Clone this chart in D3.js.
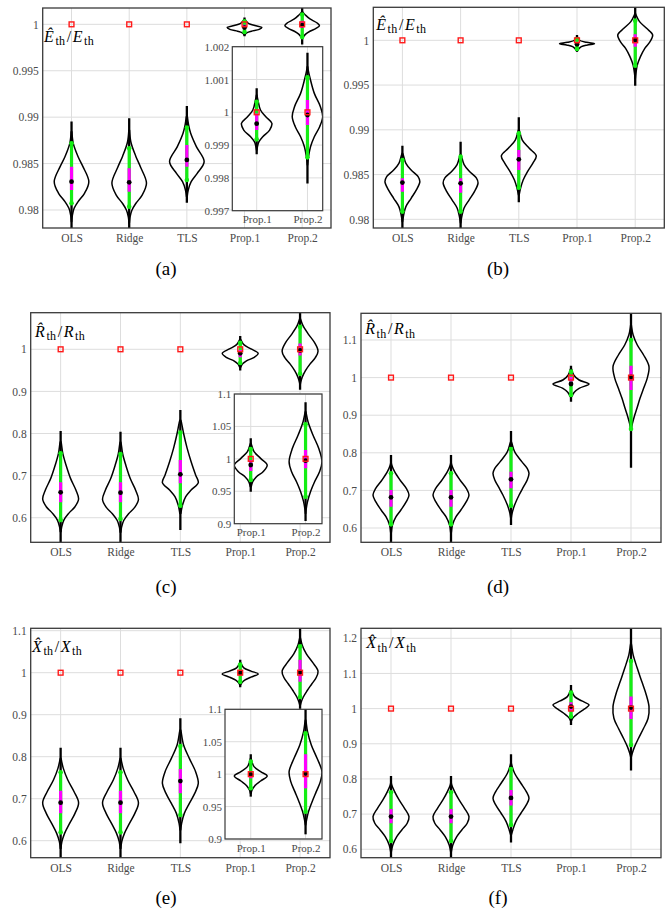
<!DOCTYPE html>
<html>
<head>
<meta charset="utf-8">
<script src="https://cdn.jsdelivr.net/npm/d3@7"></script>
<style>
  html, body { margin: 0; padding: 0; background: #fff; }
  svg { display: block; }
</style>
</head>
<body>
<div id="chart"></div>
<script>
// ---------------------------------------------------------------------------
// Estimated-to-true ratios of the thermal parameters, five estimators.
// Each violin: density profile [ratio, relative density], whisker range,
// green interval, magenta interval and the centre marker.
// ---------------------------------------------------------------------------
const categories = ["OLS", "Ridge", "TLS", "Prop.1", "Prop.2"];
const insetCategories = ["Prop.1", "Prop.2"];
const trueRatio = 1;

// tick values and labels
const ticksE = [0.98, 0.985, 0.99, 0.995, 1];
const tickLabelsE = ["0.98", "0.985", "0.99", "0.995", "1"];
const ticksEZoom = [0.997, 0.998, 0.999, 1, 1.001, 1.002];
const tickLabelsEZoom = ["0.997", "0.998", "0.999", "1", "1.001", "1.002"];
const ticks06to1 = [0.6, 0.7, 0.8, 0.9, 1];
const tickLabels06to1 = ["0.6", "0.7", "0.8", "0.9", "1"];
const ticks06to11 = [0.6, 0.7, 0.8, 0.9, 1, 1.1];
const tickLabels06to11 = ["0.6", "0.7", "0.8", "0.9", "1", "1.1"];
const ticks06to12 = [0.6, 0.7, 0.8, 0.9, 1, 1.1, 1.2];
const tickLabels06to12 = ["0.6", "0.7", "0.8", "0.9", "1", "1.1", "1.2"];
const ticksZoom = [0.9, 0.95, 1, 1.05, 1.1];
const tickLabelsZoom = ["0.9", "0.95", "1", "1.05", "1.1"];

// ---- (a) E_th ----
const aWhisker = [[0.9770, 0.98952], [0.9770, 0.98987], [0.98079, 0.99120], [0.99872, 1.00073], [0.997833, 1.001817]];
const aGreen = [[0.98072, 0.98718], [0.98036, 0.98664], [0.98323, 0.98887], [0.999175, 1.000323], [0.998626, 1.001065]];
const aMagenta = [[0.98215, 0.98467], [0.98196, 0.98449], [0.98467, 0.98700], [0.999459, 0.999967], [0.999612, 1.000374]];
const aCentre = [0.98305, 0.98298, 0.98539, 0.999652, 0.999917];
const aDensity = [
  [[0.98844, 0.02], [0.98718, 0.1], [0.98574, 0.38], [0.98467, 0.66], [0.98305, 1], [0.98180, 0.75], [0.98090, 0.38], [0.98018, 0.15], [0.97946, 0.05], [0.97874, 0.01]],
  [[0.98860, 0.02], [0.98730, 0.1], [0.98580, 0.38], [0.98460, 0.66], [0.98290, 1], [0.98160, 0.75], [0.98070, 0.38], [0.97995, 0.15], [0.97925, 0.05], [0.97860, 0.01]],
  [[0.99005, 0.03], [0.98916, 0.1], [0.98826, 0.22], [0.98682, 0.55], [0.98521, 1], [0.98395, 0.6], [0.98305, 0.25], [0.98215, 0.08], [0.98144, 0.02]],
  [[1.000526, 0.02], [1.000374, 0.08], [1.000069, 0.25], [0.999866, 0.6], [0.999663, 1], [0.999459, 0.85], [0.999256, 0.4], [0.999104, 0.15], [0.998951, 0.05], [0.99885, 0.01]],
  [[1.00139, 0.02], [1.001289, 0.05], [1.000984, 0.2], [1.000577, 0.45], [1.000171, 0.85], [0.999866, 1], [0.999561, 0.8], [0.999256, 0.45], [0.998951, 0.2], [0.998646, 0.07], [0.998392, 0.01]]
];

// ---- (b) E_th ----
const bWhisker = [[0.9775, 0.98823], [0.9775, 0.98868], [0.98190, 0.99140], [0.99873, 1.00060], [0.99493, 1.0045]];
const bGreen = [[0.98086, 0.98663], [0.98086, 0.98700], [0.98354, 0.98961], [0.99903, 1.00011], [0.99717, 1.00220]];
const bMagenta = [[0.98309, 0.98458], [0.98298, 0.98458], [0.98551, 0.98775], [0.99948, 0.99985], [0.99929, 1.00067]];
const bCentre = [0.98410, 0.98402, 0.98670, 0.99955, 1.00004];
const bDensity = [
  [[0.98737, 0.02], [0.98719, 0.05], [0.98626, 0.2], [0.98551, 0.5], [0.98477, 0.9], [0.98421, 1], [0.98328, 0.8], [0.98235, 0.5], [0.98142, 0.2], [0.98048, 0.07], [0.97974, 0.01]],
  [[0.98725, 0.02], [0.98705, 0.05], [0.98612, 0.2], [0.98537, 0.5], [0.98463, 0.9], [0.98407, 1], [0.98313, 0.8], [0.98220, 0.5], [0.98127, 0.2], [0.98033, 0.07], [0.97960, 0.01]],
  [[0.98998, 0.02], [0.98980, 0.05], [0.98886, 0.2], [0.98793, 0.6], [0.98708, 1], [0.98626, 0.8], [0.98533, 0.5], [0.98439, 0.25], [0.98346, 0.1], [0.98272, 0.02]],
  [[1.00041, 0.02], [1.00004, 0.12], [0.99978, 0.55], [0.99963, 1], [0.99948, 0.6], [0.99929, 0.25], [0.99899, 0.08], [0.99881, 0.02]],
  [[1.00302, 0.01], [1.00283, 0.05], [1.00209, 0.25], [1.00134, 0.65], [1.00060, 1], [0.99985, 0.85], [0.99911, 0.55], [0.99818, 0.3], [0.99724, 0.12], [0.99631, 0.04], [0.99575, 0.01]]
];

// ---- (c) R_th ----
const cWhisker = [[0.52, 0.806], [0.52, 0.80436], [0.57069, 0.85584], [0.94936, 1.03162], [0.90411, 1.08715]];
const cGreen = [[0.5944, 0.75287], [0.59677, 0.75129], [0.62852, 0.80198], [0.96735, 1.01517], [0.94164, 1.05321]];
const cMagenta = [[0.63644, 0.68396], [0.63644, 0.68396], [0.68158, 0.73703], [0.98123, 0.9982], [0.98535, 1.01362]];
const cCentre = [0.6602, 0.6594, 0.70297, 0.99049, 0.99717];
const cDensity = [
  [[0.78059, 0.02], [0.77663, 0.04], [0.75286, 0.12], [0.72514, 0.3], [0.69346, 0.55], [0.66573, 0.85], [0.64435, 1], [0.62613, 0.8], [0.61029, 0.45], [0.59444, 0.18], [0.57860, 0.06], [0.56672, 0.02]],
  [[0.77959, 0.02], [0.77563, 0.04], [0.75186, 0.12], [0.72414, 0.3], [0.69246, 0.55], [0.66473, 0.85], [0.64335, 1], [0.62513, 0.8], [0.60929, 0.45], [0.59344, 0.18], [0.57760, 0.06], [0.56572, 0.02]],
  [[0.83207, 0.02], [0.82811, 0.05], [0.79643, 0.2], [0.76475, 0.38], [0.73306, 0.6], [0.70138, 0.85], [0.68316, 1], [0.66573, 0.6], [0.64989, 0.3], [0.63009, 0.12], [0.61029, 0.03]],
  [[1.02391, 0.02], [1.02134, 0.05], [1.01105, 0.2], [1.00077, 0.6], [0.99049, 1], [0.98021, 0.75], [0.97249, 0.35], [0.96478, 0.12], [0.95707, 0.03]],
  [[1.07275, 0.02], [1.07018, 0.04], [1.05733, 0.15], [1.03676, 0.45], [1.01620, 0.8], [0.99563, 1], [0.98021, 0.85], [0.96478, 0.55], [0.94936, 0.3], [0.93393, 0.12], [0.92108, 0.03], [0.91594, 0.01]]
];

// ---- (d) R_th ----
const dWhisker = [[0.55, 0.79415], [0.55, 0.79415], [0.6080, 0.85799], [0.9360, 1.03174], [0.76047, 1.18]];
const dGreen = [[0.60977, 0.74539], [0.60977, 0.74539], [0.65941, 0.81012], [0.95373, 1.01578], [0.8633, 1.1]];
const dMagenta = [[0.65675, 0.70107], [0.65675, 0.70107], [0.7055, 0.74983], [0.98919, 1.00248], [0.96703, 1.03174]];
const dCentre = [0.68156, 0.68156, 0.72944, 0.98298, 1.0016];
const dDensity = [
  [[0.77199, 0.02], [0.76756, 0.04], [0.74983, 0.2], [0.72767, 0.5], [0.70551, 0.85], [0.68778, 1], [0.67005, 0.85], [0.64788, 0.55], [0.63015, 0.28], [0.60799, 0.08], [0.58849, 0.02]],
  [[0.77199, 0.02], [0.76756, 0.04], [0.74983, 0.2], [0.72767, 0.5], [0.70551, 0.85], [0.68778, 1], [0.67005, 0.85], [0.64788, 0.55], [0.63015, 0.28], [0.60799, 0.08], [0.58849, 0.02]],
  [[0.82962, 0.02], [0.82518, 0.05], [0.80302, 0.2], [0.77643, 0.6], [0.75870, 0.9], [0.74540, 1], [0.72767, 0.9], [0.70994, 0.7], [0.68778, 0.45], [0.66118, 0.2], [0.63902, 0.06], [0.62750, 0.02]],
  [[1.02287, 0.03], [1.00692, 0.15], [0.99362, 0.45], [0.98298, 1], [0.97146, 0.45], [0.96082, 0.18], [0.94929, 0.04]],
  [[1.13989, 0.02], [1.13546, 0.03], [1.11330, 0.12], [1.08670, 0.35], [1.06011, 0.7], [1.02908, 1], [0.99805, 0.9], [0.97146, 0.7], [0.94486, 0.5], [0.91827, 0.33], [0.89610, 0.18], [0.87838, 0.08], [0.86508, 0.02]]
];

// ---- (e) X_th ----
const eWhisker = [[0.54, 0.82143], [0.54, 0.82143], [0.59365, 0.89126], [0.9653, 1.03059], [0.9072, 1.115]];
const eGreen = [[0.61984, 0.7627], [0.61984, 0.7627], [0.66111, 0.82539], [0.97815, 1.01928], [0.94216, 1.06298]];
const eMagenta = [[0.66508, 0.71905], [0.66508, 0.71905], [0.7127, 0.77063], [0.9936, 1.0013], [0.97815, 1.03059]];
const eCentre = [0.69048, 0.69048, 0.74206, 0.9995, 1.001];
const eDensity = [
  [[0.79601, 0.02], [0.79204, 0.04], [0.77220, 0.15], [0.74442, 0.4], [0.71664, 0.75], [0.69045, 1], [0.66505, 0.8], [0.64124, 0.5], [0.61743, 0.22], [0.59759, 0.07], [0.58171, 0.02]],
  [[0.79601, 0.02], [0.79204, 0.04], [0.77220, 0.15], [0.74442, 0.4], [0.71664, 0.75], [0.69045, 1], [0.66505, 0.8], [0.64124, 0.5], [0.61743, 0.22], [0.59759, 0.07], [0.58171, 0.02]],
  [[0.86348, 0.02], [0.85951, 0.04], [0.82776, 0.18], [0.79601, 0.5], [0.76426, 0.85], [0.73649, 1], [0.71267, 0.8], [0.68886, 0.5], [0.66505, 0.22], [0.64124, 0.07], [0.62537, 0.02]],
  [[1.02442, 0.02], [1.02185, 0.04], [1.01157, 0.2], [1.00386, 0.6], [0.99717, 1], [0.98946, 0.6], [0.98226, 0.25], [0.97558, 0.08], [0.97044, 0.02]],
  [[1.08355, 0.01], [1.08098, 0.03], [1.06555, 0.12], [1.04499, 0.35], [1.02442, 0.7], [1.00386, 1], [0.98843, 0.9], [0.97301, 0.65], [0.95758, 0.4], [0.94216, 0.18], [0.92931, 0.06], [0.92159, 0.01]]
];

// ---- (f) X_th ----
const fWhisker = [[0.56, 0.80853], [0.56, 0.80853], [0.61896, 0.87014], [0.95355, 1.0673], [0.82369, 1.24]];
const fGreen = [[0.6237, 0.76209], [0.6237, 0.76209], [0.6692, 0.82844], [0.97725, 1.0455], [0.89668, 1.13555]];
const fMagenta = [[0.67393, 0.71469], [0.67393, 0.71469], [0.72417, 0.76872], [0.99147, 1.018], [0.97062, 1.03412]];
const fCentre = [0.69289, 0.69289, 0.74597, 1.0057, 1.00284];
const fDensity = [
  [[0.78768, 0.02], [0.78294, 0.04], [0.76398, 0.2], [0.74028, 0.45], [0.71659, 0.75], [0.69289, 1], [0.67393, 0.9], [0.65497, 0.6], [0.63602, 0.32], [0.61232, 0.1], [0.59336, 0.02]],
  [[0.78768, 0.02], [0.78294, 0.04], [0.76398, 0.2], [0.74028, 0.45], [0.71659, 0.75], [0.69289, 1], [0.67393, 0.9], [0.65497, 0.6], [0.63602, 0.32], [0.61232, 0.1], [0.59336, 0.02]],
  [[0.84455, 0.02], [0.83981, 0.04], [0.81611, 0.2], [0.78768, 0.55], [0.76398, 0.85], [0.74502, 1], [0.72606, 0.85], [0.70237, 0.55], [0.67867, 0.27], [0.65497, 0.1], [0.64076, 0.02]],
  [[1.05308, 0.02], [1.05024, 0.04], [1.03412, 0.2], [1.02180, 0.6], [1.01043, 1], [0.99905, 0.75], [0.98673, 0.4], [0.97441, 0.12], [0.96493, 0.02]],
  [[1.18578, 0.01], [1.18104, 0.03], [1.15261, 0.12], [1.11469, 0.35], [1.07678, 0.6], [1.03886, 0.85], [1.00569, 1], [0.97251, 0.95], [0.94408, 0.7], [0.91564, 0.42], [0.89194, 0.2], [0.87299, 0.07], [0.86066, 0.01]]
];

// ---------------------------------------------------------------------------
// Page layout (pixels) for the six sub-figures
// ---------------------------------------------------------------------------
const panels = [
  { key: "a", whisker: aWhisker, green: aGreen, magenta: aMagenta, centre: aCentre, density: aDensity,
    frame: { left: 42.7, top: 8, right: 331, bottom: 228 }, yDomain: [0.97806, 1.00176],
    ticks: ticksE, tickLabels: tickLabelsE, symbol: "E\u0302", symbol2: "E", labelAt: [44, 41.7],
    caption: "(a)", captionAt: [166, 275],
    inset: { frame: { left: 232.3, top: 46.7, right: 322.7, bottom: 210.7 }, xDomain: [0.52, 2.3],
             yDomain: [0.997, 1.002], ticks: ticksEZoom, tickLabels: tickLabelsEZoom } },
  { key: "b", whisker: bWhisker, green: bGreen, magenta: bMagenta, centre: bCentre, density: bDensity,
    frame: { left: 373.3, top: 7.3, right: 664.3, bottom: 228 }, yDomain: [0.97903, 1.00369],
    ticks: ticksE, tickLabels: tickLabelsE, symbol: "E\u0302", symbol2: "E", labelAt: [376.2, 29.5],
    caption: "(b)", captionAt: [498, 275] },
  { key: "c", whisker: cWhisker, green: cGreen, magenta: cMagenta, centre: cCentre, density: cDensity,
    frame: { left: 30.7, top: 312.7, right: 330, bottom: 542.3 }, yDomain: [0.5416, 1.0869],
    ticks: ticks06to1, tickLabels: tickLabels06to1, symbol: "R\u0302", symbol2: "R", labelAt: [35, 336.7],
    caption: "(c)", captionAt: [166, 593],
    inset: { frame: { left: 234.3, top: 394, right: 322, bottom: 523.7 }, xDomain: [0.7, 2.3],
             yDomain: [0.9, 1.1], ticks: ticksZoom, tickLabels: tickLabelsZoom } },
  { key: "d", whisker: dWhisker, green: dGreen, magenta: dMagenta, centre: dCentre, density: dDensity,
    frame: { left: 361, top: 313.3, right: 661, bottom: 542.3 }, yDomain: [0.562, 1.171],
    ticks: ticks06to11, tickLabels: tickLabels06to11, symbol: "R\u0302", symbol2: "R", labelAt: [365.2, 334],
    caption: "(d)", captionAt: [498, 593] },
  { key: "e", whisker: eWhisker, green: eGreen, magenta: eMagenta, centre: eCentre, density: eDensity,
    frame: { left: 30.7, top: 628.3, right: 330, bottom: 857.7 }, yDomain: [0.5595, 1.1057],
    ticks: ticks06to11, tickLabels: tickLabels06to11, symbol: "X\u0302", symbol2: "X", labelAt: [32, 651.5],
    caption: "(e)", captionAt: [166, 904],
    inset: { frame: { left: 225, top: 709.3, right: 322, bottom: 839 }, xDomain: [0.53, 2.3],
             yDomain: [0.9, 1.1], ticks: ticksZoom, tickLabels: tickLabelsZoom } },
  { key: "f", whisker: fWhisker, green: fGreen, magenta: fMagenta, centre: fCentre, density: fDensity,
    frame: { left: 361, top: 628.3, right: 661, bottom: 857.7 }, yDomain: [0.576, 1.2284],
    ticks: ticks06to12, tickLabels: tickLabels06to12, symbol: "X\u0302", symbol2: "X", labelAt: [366.2, 648.3],
    caption: "(f)", captionAt: [498, 904] }
];

// styling
const SERIF = "'Liberation Serif', 'DejaVu Serif', serif";
const GRID = "#dddddd";
const FRAME = "#3a3a3a";
const TICK_TEXT = "#4a4a4a";
const GREEN = "#14ee14";
const MAGENTA = "#ff00ff";
const RED = "#ff1a1a";

const svg = d3.select("#chart").append("svg")
  .attr("width", 670).attr("height", 914)
  .attr("viewBox", "0 0 670 914");
svg.append("rect").attr("width", 670).attr("height", 914).attr("fill", "#fff");
const defs = svg.append("defs");

// one violin with its whisker, intervals, centre marker and true-value square
function drawViolin(g, cx, y, halfWidth, i, p) {
  const area = d3.area()
    .curve(d3.curveCatmullRom.alpha(0.5))
    .y(d => y(d[0]))
    .x0(d => cx - d[1] * halfWidth)
    .x1(d => cx + d[1] * halfWidth);
  g.append("path").attr("d", area(p.density[i]))
    .attr("fill", "none").attr("stroke", "#000").attr("stroke-width", 1.5)
    .attr("stroke-linejoin", "round");

  const seg = (r, colour, w) => g.append("line")
    .attr("x1", cx).attr("x2", cx)
    .attr("y1", y(r[0])).attr("y2", y(r[1]))
    .attr("stroke", colour).attr("stroke-width", w);
  seg(p.whisker[i], "#000", 2.3);
  seg(p.green[i], GREEN, 3.2);
  seg(p.magenta[i], MAGENTA, 3.2);

  p.green[i].forEach(v => g.append("circle")
    .attr("cx", cx).attr("cy", y(v)).attr("r", 2.3).attr("fill", GREEN));
  g.append("circle").attr("cx", cx).attr("cy", y(p.centre[i]))
    .attr("r", 2.4).attr("fill", "#000");

  const s = 4.8;
  g.append("rect")
    .attr("x", cx - s / 2).attr("y", y(trueRatio) - s / 2)
    .attr("width", s).attr("height", s)
    .attr("fill", "none").attr("stroke", RED).attr("stroke-width", 1.4);
}

function styleAxis(g, size) {
  g.attr("font-family", null).attr("font-size", null);
  g.select(".domain").remove();
  g.selectAll(".tick line").remove();
  g.selectAll("text")
    .style("font-family", SERIF).style("font-size", size + "px").attr("fill", TICK_TEXT);
}

function drawGrid(g, fr, ticks, cats, xOf, y) {
  g.selectAll(null).data(ticks).join("line")
    .attr("x1", fr.left).attr("x2", fr.right)
    .attr("y1", d => y(d)).attr("y2", d => y(d))
    .attr("stroke", GRID).attr("stroke-width", 1);
  g.selectAll(null).data(cats).join("line")
    .attr("x1", d => xOf(d)).attr("x2", d => xOf(d))
    .attr("y1", fr.top).attr("y2", fr.bottom)
    .attr("stroke", GRID).attr("stroke-width", 1);
}

// axis label such as  R̂_th / R_th
function drawLabel(g, p) {
  const t = g.append("text")
    .attr("x", p.labelAt[0]).attr("y", p.labelAt[1])
    .style("font-family", SERIF).style("font-size", "16px").attr("fill", "#000");
  t.append("tspan").attr("font-style", "italic").text(p.symbol);
  t.append("tspan").style("font-size", "12px").attr("letter-spacing", 0.4)
    .attr("dy", 3.6).attr("dx", 1.6).text("th");
  t.append("tspan").attr("dy", -3.6).attr("dx", 1.2).text("/");
  t.append("tspan").attr("font-style", "italic").attr("dx", 1.5).text(p.symbol2);
  t.append("tspan").style("font-size", "12px").attr("letter-spacing", 0.4)
    .attr("dy", 3.6).attr("dx", 1.6).text("th");
}

panels.forEach(p => {
  const fr = p.frame;
  const g = svg.append("g").attr("class", "panel-" + p.key);
  const x = d3.scalePoint().domain(categories).range([fr.left, fr.right]).padding(0.5);
  const y = d3.scaleLinear().domain(p.yDomain).range([fr.bottom, fr.top]);

  const clipId = "clip-" + p.key;
  defs.append("clipPath").attr("id", clipId).append("rect")
    .attr("x", fr.left).attr("y", fr.top)
    .attr("width", fr.right - fr.left).attr("height", fr.bottom - fr.top);

  drawGrid(g, fr, p.ticks, categories, d => x(d), y);

  const body = g.append("g").attr("clip-path", `url(#${clipId})`);
  categories.forEach((c, i) => drawViolin(body, x(c), y, x.step() * 0.3, i, p));

  // zoomed view of the proposed estimators
  if (p.inset) {
    const ins = p.inset, ifr = ins.frame;
    const ix = d3.scaleLinear().domain(ins.xDomain).range([ifr.left, ifr.right]);
    const iy = d3.scaleLinear().domain(ins.yDomain).range([ifr.bottom, ifr.top]);
    const ig = g.append("g").attr("class", "inset");
    ig.append("rect").attr("x", ifr.left).attr("y", ifr.top)
      .attr("width", ifr.right - ifr.left).attr("height", ifr.bottom - ifr.top)
      .attr("fill", "#fff");
    const iclip = "clip-inset-" + p.key;
    defs.append("clipPath").attr("id", iclip).append("rect")
      .attr("x", ifr.left).attr("y", ifr.top)
      .attr("width", ifr.right - ifr.left).attr("height", ifr.bottom - ifr.top);
    const pos = c => ix(insetCategories.indexOf(c) + 1);
    drawGrid(ig, ifr, ins.ticks, insetCategories, pos, iy);
    const ibody = ig.append("g").attr("clip-path", `url(#${iclip})`);
    const step = ix(2) - ix(1);
    insetCategories.forEach(c => drawViolin(ibody, pos(c), iy, step * 0.3, categories.indexOf(c), p));
    ig.append("rect").attr("x", ifr.left).attr("y", ifr.top)
      .attr("width", ifr.right - ifr.left).attr("height", ifr.bottom - ifr.top)
      .attr("fill", "none").attr("stroke", FRAME).attr("stroke-width", 1.2);

    const iyAxis = ig.append("g").attr("transform", `translate(${ifr.left},0)`)
      .call(d3.axisLeft(iy).tickValues(ins.ticks)
        .tickFormat((d, k) => ins.tickLabels[k]).tickSize(0).tickPadding(3));
    styleAxis(iyAxis, 11);
    const ixAxis = ig.append("g").attr("transform", `translate(0,${ifr.bottom})`)
      .call(d3.axisBottom(ix).tickValues([1, 2])
        .tickFormat((d, k) => insetCategories[k]).tickSize(0).tickPadding(5));
    styleAxis(ixAxis, 11);
  }

  g.append("rect").attr("x", fr.left).attr("y", fr.top)
    .attr("width", fr.right - fr.left).attr("height", fr.bottom - fr.top)
    .attr("fill", "none").attr("stroke", FRAME).attr("stroke-width", 1.3);

  const yAxis = g.append("g").attr("transform", `translate(${fr.left},0)`)
    .call(d3.axisLeft(y).tickValues(p.ticks)
      .tickFormat((d, k) => p.tickLabels[k]).tickSize(0).tickPadding(4));
  styleAxis(yAxis, 11.5);
  const xAxis = g.append("g").attr("transform", `translate(0,${fr.bottom})`)
    .call(d3.axisBottom(x).tickSize(0).tickPadding(6));
  styleAxis(xAxis, 11.5);

  drawLabel(g, p);

  g.append("text").attr("x", p.captionAt[0]).attr("y", p.captionAt[1])
    .attr("text-anchor", "middle").style("font-family", SERIF)
    .style("font-size", "19px").attr("fill", "#000").text(p.caption);
});
</script>
</body>
</html>
